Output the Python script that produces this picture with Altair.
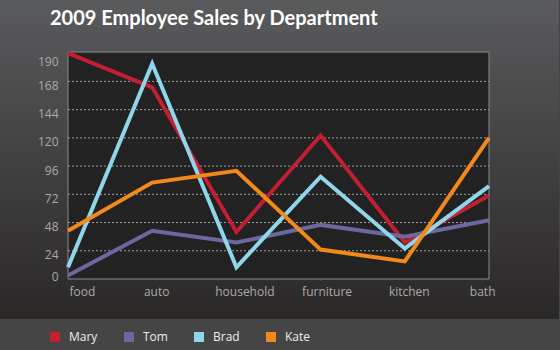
import altair as alt
import pandas as pd

departments = ["food", "auto", "household", "furniture", "kitchen", "bath"]
employees = ["Mary", "Tom", "Brad", "Kate"]
mary = [192, 163, 40, 122, 31, 71]
tom = [3, 41, 31, 46, 36, 50]
brad = [10, 183, 10, 87, 26, 79]
kate = [41, 82, 92, 25, 15, 120]
y_ticks = [0, 24, 48, 72, 96, 120, 144, 168, 190]
grid_values = [24, 48, 72, 96, 120, 144, 168]
colors = ["#c21f32", "#6b68a0", "#8fd6ea", "#f2891a"]
title_text = "2009 Employee Sales by Department"

series = {"Mary": mary, "Tom": tom, "Brad": brad, "Kate": kate}
rows = []
for i, name in enumerate(employees):
    for d, v in zip(departments, series[name]):
        rows.append({"employee": name, "department": d, "sales": v, "k": i})
df = pd.DataFrame(rows)

W, H = 421, 227
FONT = "Open Sans"

y_scale = alt.Scale(domain=[0, 193], nice=False, zero=True)
x_scale = alt.Scale(domain=departments, type="point", padding=0)

bg = alt.Chart(alt.Data(values=[{}])).mark_rect(
    fill=alt.LinearGradient(
        gradient="linear", x1=0, x2=0, y1=0, y2=1,
        stops=[alt.GradientStop(color="#5a5b5d", offset=0),
               alt.GradientStop(color="#2a2727", offset=1)]
    )
).encode(x=alt.value(-68), x2=alt.value(491), y=alt.value(-52), y2=alt.value(267))

title = alt.Chart(alt.Data(values=[{"t": title_text}])).mark_text(
    font="Lato", fontSize=20, fontWeight="bold", color="#ffffff",
    align="left", baseline="alphabetic"
).encode(x=alt.value(-18), y=alt.value(-27), text="t:N")

plotbg = alt.Chart(alt.Data(values=[{}])).mark_rect(
    fill="#222222", stroke="#8a8a8a", strokeWidth=1
).encode(x=alt.value(0), x2=alt.value(W), y=alt.value(0), y2=alt.value(H))

y_axis = alt.Axis(
    values=y_ticks, ticks=False, domain=False, grid=False,
    labelColor="#aaaaaa", labelFont=FONT, labelFontSize=12,
    labelPadding=10, zindex=1,
    labelOffset={"condition": [
        {"test": "datum.value === 0", "value": -3},
        {"test": "datum.value === 190", "value": 6}],
        "value": 4},
)

grid = alt.Chart(pd.DataFrame({"g": grid_values})).mark_rule(
    color="#a0a0a0", strokeDash=[2, 2], strokeWidth=1
).encode(
    y=alt.Y("g:Q", scale=y_scale, title=None, axis=y_axis),
    x=alt.value(0), x2=alt.value(W)
)

lines = alt.Chart(df).mark_line(strokeWidth=4).encode(
    x=alt.X("department:N", scale=x_scale, sort=departments, title=None,
            axis=alt.Axis(
                ticks=False, domain=False, grid=False, labelColor="#aaaaaa",
                labelFont=FONT, labelFontSize=12, labelPadding=7, labelAngle=0,
                zindex=1,
                labelAlign={"condition": [
                    {"test": "datum.value === 'food'", "value": "left"},
                    {"test": "datum.value === 'bath'", "value": "right"}],
                    "value": "center"},
                labelOffset={"condition": [
                    {"test": "datum.value === 'food'", "value": 1},
                    {"test": "datum.value === 'auto'", "value": 4},
                    {"test": "datum.value === 'household'", "value": 8},
                    {"test": "datum.value === 'furniture'", "value": 6},
                    {"test": "datum.value === 'kitchen'", "value": 4},
                    {"test": "datum.value === 'bath'", "value": 6}],
                    "value": 0},
            )),
    y=alt.Y("sales:Q", scale=y_scale, title=None, axis=y_axis),
    stroke=alt.Stroke("k:N", scale=alt.Scale(domain=[0, 1, 2, 3], range=colors),
                      legend=None),
    detail="k:O",
)

legend_layer = alt.Chart(pd.DataFrame({"employee": employees})).mark_square(
    size=100, filled=True, opacity=1
).encode(
    x=alt.value(-600), y=alt.value(-600),
    color=alt.Color("employee:N", sort=employees,
                    scale=alt.Scale(domain=employees, range=colors),
                    legend=alt.Legend(
                        orient="none", legendX=-19, legendY=279,
                        direction="horizontal", title=None,
                        symbolType="square", symbolSize=100,
                        symbolStrokeWidth=0, labelColor="#eeeeee",
                        labelFont=FONT, labelFontSize=12, labelOffset=8,
                        columnPadding=25, zindex=1,
                    )),
)

chart = alt.layer(bg, title, plotbg, grid, lines, legend_layer).properties(
    width=W, height=H,
    autosize=alt.AutoSizeParams(type="none"),
    padding={"left": 68, "top": 52, "right": 71, "bottom": 71},
    background="#454545",
).configure_view(strokeWidth=0)

chart.save("out.html", embed_options={"renderer": "svg", "actions": False})
